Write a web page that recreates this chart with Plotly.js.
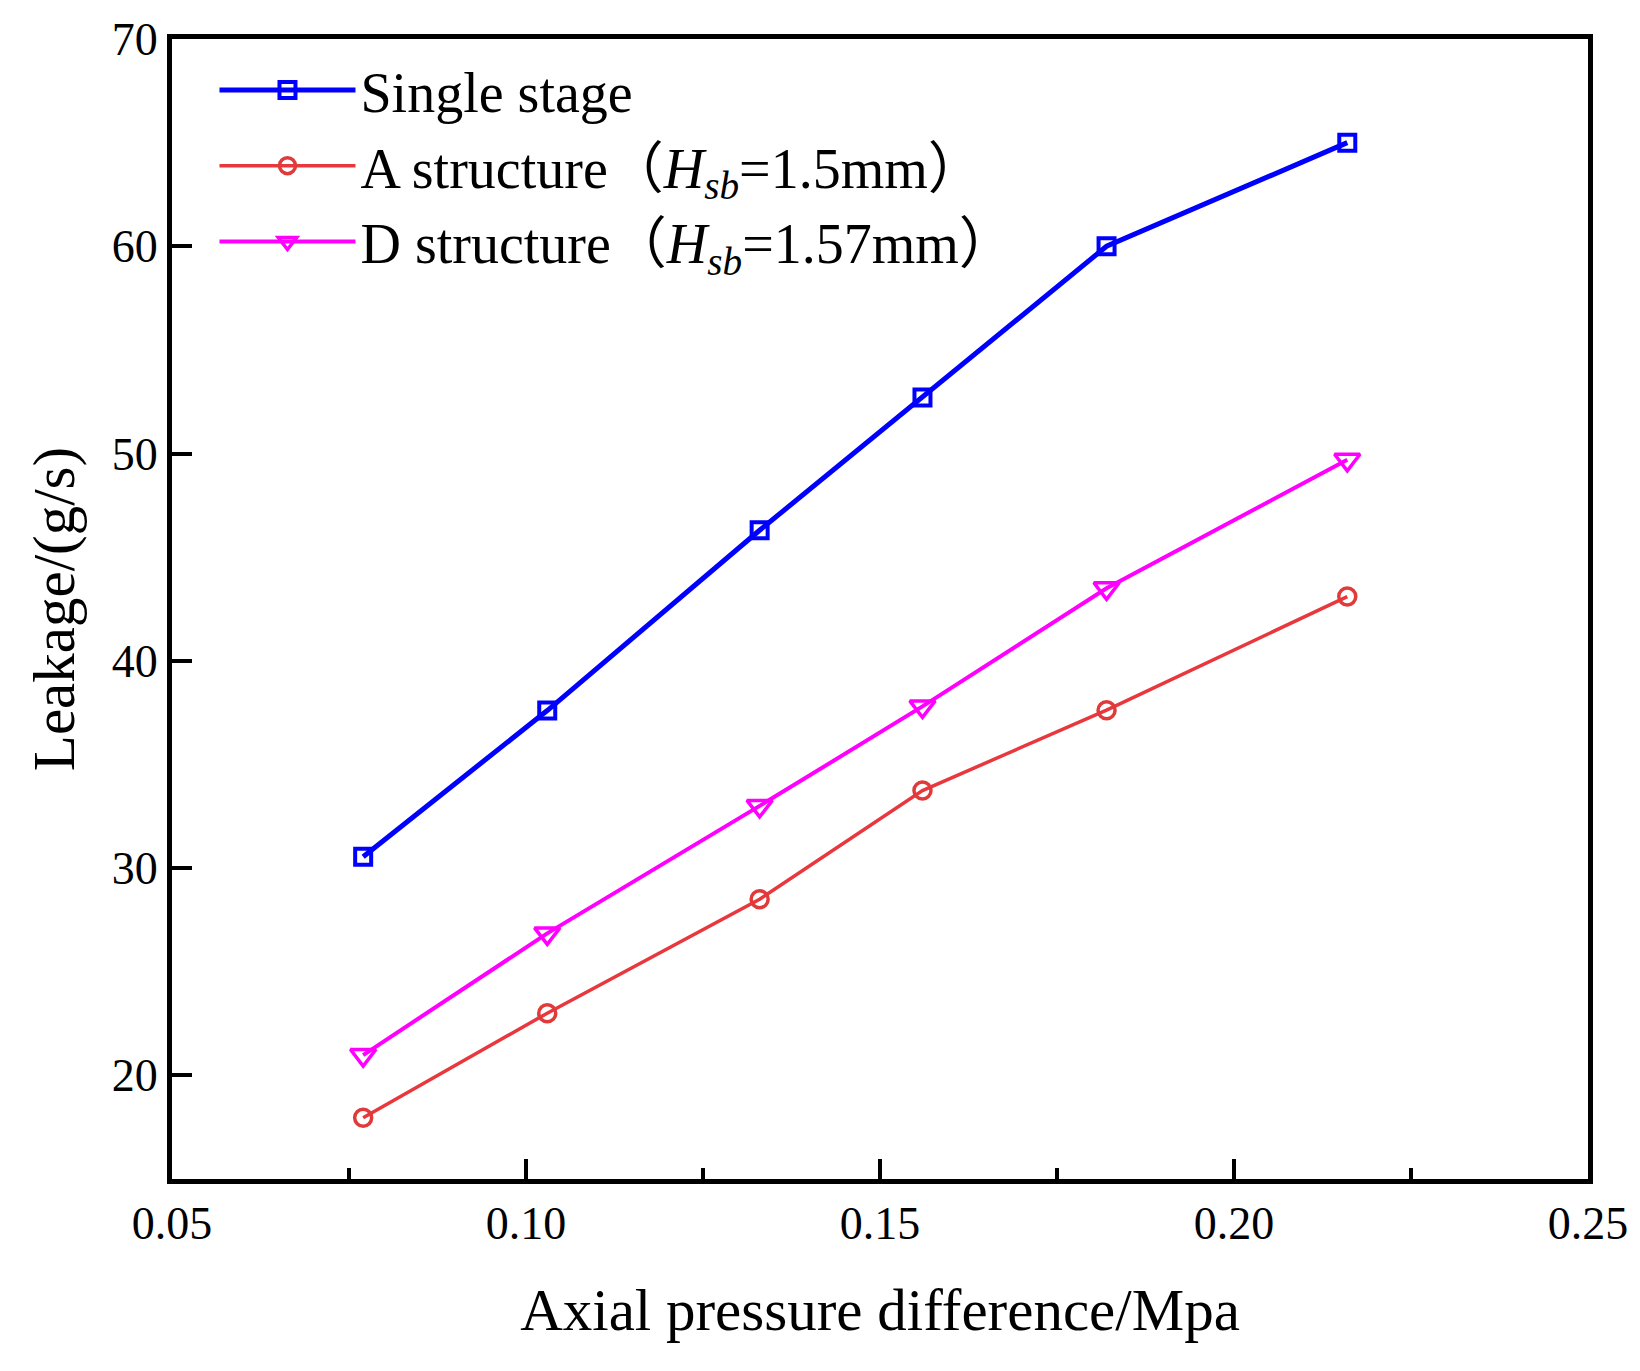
<!DOCTYPE html>
<html>
<head>
<meta charset="utf-8">
<script src="https://cdn.plot.ly/plotly-3.0.1.min.js"></script>
<style>
  html, body { margin: 0; padding: 0; background: #ffffff; }
  #chart { width: 1640px; height: 1371px; }
</style>
</head>
<body>
<div id="chart"></div>
<script>
// Data
const pressureDiff = [0.077, 0.103, 0.133, 0.156, 0.182, 0.216];
const singleStage = [30.55, 37.6, 46.3, 52.7, 60.0, 65.0];
const aStructure = [17.96, 23.0, 28.5, 33.74, 37.62, 43.1];
const dStructure = [20.98, 26.85, 33.0, 37.8, 43.5, 49.7];

const seriesNames = [
  'Single stage',
  'A structure（<i>H</i><sub><i>sb</i></sub>=1.5mm）',
  'D structure（<i>H</i><sub><i>sb</i></sub>=1.57mm）'
];

const xTickVals = [0.05, 0.10, 0.15, 0.20, 0.25];
const xTickText = ['0.05', '0.10', '0.15', '0.20', '0.25'];
const yTickVals = [20, 30, 40, 50, 60, 70];

const serif = '"Liberation Serif", "Times New Roman", "Noto Sans CJK SC", serif';

const traces = [
  {
    x: pressureDiff, y: singleStage, name: seriesNames[0],
    type: 'scatter', mode: 'lines+markers',
    line: { color: '#0000ff', width: 5 },
    marker: { symbol: 'square-open', size: 16, color: '#0000ff', line: { width: 4, color: '#0000ff' } }
  },
  {
    x: pressureDiff, y: aStructure, name: seriesNames[1],
    type: 'scatter', mode: 'lines+markers',
    line: { color: '#e8383d', width: 3.5 },
    marker: { symbol: 'circle-open', size: 17, color: '#e03a3a', line: { width: 3.5, color: '#e03a3a' } }
  },
  {
    x: pressureDiff, y: dStructure, name: seriesNames[2],
    type: 'scatter', mode: 'lines+markers',
    line: { color: '#ff00ff', width: 4 },
    marker: { symbol: 'triangle-down-open', size: 22, color: '#ff00ff', line: { width: 3.5, color: '#ff00ff' } }
  }
];

const layout = {
  width: 1640, height: 1371,
  paper_bgcolor: '#ffffff', plot_bgcolor: '#ffffff',
  margin: { l: 172, r: 52, t: 39, b: 192, pad: 0 },
  font: { family: serif, color: '#000000', size: 46 },
  showlegend: true,
  legend: {
    x: 0.03, y: 0.993, xanchor: 'left', yanchor: 'top',
    bgcolor: 'rgba(0,0,0,0)', borderwidth: 0,
    font: { family: serif, size: 56, color: '#000000' },
    itemwidth: 136, tracegroupgap: 0, itemsizing: 'trace'
  },
  xaxis: {
    range: [0.05, 0.25], tickvals: xTickVals, ticktext: xTickText,
    ticks: 'inside', ticklen: 20, tickwidth: 4, tickcolor: '#000000',
    minor: { ticks: 'inside', ticklen: 11, tickwidth: 4, tickcolor: '#000000', dtick: 0.025, tick0: 0.075, showgrid: false },
    showline: true, linewidth: 5, linecolor: '#000000', mirror: true,
    showgrid: false, zeroline: false,
    tickfont: { family: serif, size: 46, color: '#000000' },
    title: { text: 'Axial pressure difference/Mpa', font: { family: serif, size: 59, color: '#000000' }, standoff: 42 },
    automargin: false
  },
  yaxis: {
    range: [15, 70], tickvals: yTickVals,
    ticks: 'inside', ticklen: 20, tickwidth: 4, tickcolor: '#000000',
    showline: true, linewidth: 5, linecolor: '#000000', mirror: true,
    showgrid: false, zeroline: false,
    tickfont: { family: serif, size: 46, color: '#000000' },
    title: { text: 'Leakage/(g/s)', font: { family: serif, size: 59, color: '#000000' }, standoff: 20 },
    automargin: false
  }
};

Plotly.newPlot('chart', traces, layout, { displayModeBar: false, staticPlot: true });
</script>
</body>
</html>
